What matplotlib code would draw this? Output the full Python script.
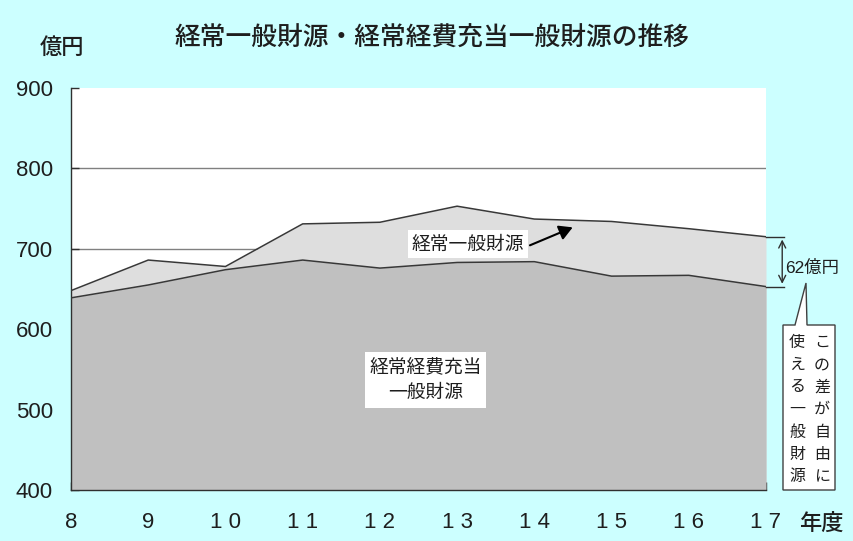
import matplotlib
matplotlib.use("Agg")
import matplotlib.pyplot as plt
from matplotlib.patches import Polygon

years = [8, 9, 10, 11, 12, 13, 14, 15, 16, 17]
year_labels = ["8", "9", "1 0", "1 1", "1 2", "1 3", "1 4", "1 5", "1 6", "1 7"]
general_revenue = [648, 686, 678, 731, 733, 753, 737, 734, 725, 715]
recurring_allocated = [639, 655, 674, 686, 676, 683, 684, 666, 667, 653]
y_ticks = [400, 500, 600, 700, 800, 900]

JP = ["Noto Sans CJK JP", "DejaVu Sans"]
NUM = ["Liberation Sans", "Noto Sans CJK JP"]
plt.rcParams['font.family'] = NUM

W, H = 854, 541
BG = "#CCFFFF"
TXT = "#1e1e1e"
fig = plt.figure(figsize=(W / 100, H / 100), dpi=100, facecolor=BG)

def fx(px):
    return px / W

def fy(py):
    return 1 - py / H

L, R, T, B = 71, 766, 88, 490
ax = fig.add_axes([fx(L), fy(B), fx(R) - fx(L), fy(T) - fy(B)])
ax.set_facecolor("white")
ax.set_xlim(years[0], years[-1])
ax.set_ylim(y_ticks[0], y_ticks[-1])

for v in y_ticks[1:-1]:
    ax.axhline(v, color="#808080", lw=1.0, zorder=0)

ax.fill_between(years, y_ticks[0], general_revenue, color="#DEDEDE", lw=0, zorder=1)
ax.plot(years, general_revenue, color="#383838", lw=1.1, zorder=3)
ax.fill_between(years, y_ticks[0], recurring_allocated, color="#C0C0C0", lw=0, zorder=2)
ax.plot(years, recurring_allocated, color="#383838", lw=1.1, zorder=3)

for s in ax.spines.values():
    s.set_color("#303030")
    s.set_linewidth(1.0)
ax.spines['top'].set_visible(False)
ax.spines['right'].set_visible(False)

ax.set_yticks(y_ticks)
ax.set_yticklabels([str(v) for v in y_ticks], fontsize=16, color=TXT)
ax.tick_params(axis='y', direction='in', length=6, width=1, color="#303030", pad=13)
ax.set_xticks(years)
ax.set_xticklabels(year_labels, fontsize=16, color=TXT)
ax.tick_params(axis='x', direction='in', length=6, width=1, color="#303030", pad=16)

fig.text(fx(432), fy(38), "経常一般財源・経常経費充当一般財源の推移", family=JP,
         fontsize=18.5, fontweight="medium", ha="center", va="center", color=TXT)
fig.text(fx(62), fy(47), "億円", family=JP, fontsize=16, fontweight="medium",
         ha="center", va="center", color=TXT)
fig.text(fx(821), fy(523), "年度", family=JP, fontsize=16, fontweight="medium",
         ha="center", va="center", color=TXT)

ax.text(13.14, 706, "経常一般財源", family=JP, fontsize=13.5, ha="center", va="center",
        color=TXT, zorder=5,
        bbox=dict(boxstyle="square,pad=0.2", fc="white", ec="none"))
ax.annotate("", xy=(14.53, 728), xytext=(13.91, 703),
            arrowprops=dict(arrowstyle="-|>,head_length=0.8,head_width=0.45", color="black", lw=1.5),
            zorder=5)
ax.text(12.59, 537, "経常経費充当\n一般財源", family=JP, fontsize=13.5, ha="center",
        va="center", color=TXT, zorder=5, linespacing=1.25,
        bbox=dict(boxstyle="square,pad=0.25", fc="white", ec="none"))

# bracket for difference
gap_top = general_revenue[-1]
gap_bot = recurring_allocated[-1]
for v in (gap_top, gap_bot):
    ax.plot([17, 17.23], [v, v], color="#303030", lw=1.0, clip_on=False, zorder=5)
ax.annotate("", xy=(17.21, gap_top), xytext=(17.21, gap_bot),
            arrowprops=dict(arrowstyle="<->,head_length=0.5,head_width=0.25", color="#303030", lw=1.0),
            annotation_clip=False)
ax.text(17.25, (gap_top + gap_bot) / 2 - 8, f"{gap_top - gap_bot}億円", family=NUM,
        fontsize=12.5, ha="left", va="center", color=TXT, clip_on=False)

# callout box
pts = [(783, 325), (795, 325), (806, 283), (807, 325), (835, 325), (835, 490), (783, 490)]
poly = Polygon([(fx(x), fy(y)) for x, y in pts], closed=True, transform=fig.transFigure,
               fc="white", ec="#404040", lw=1.0)
fig.patches.append(poly)
col_right = "この差が自由に"
col_left = "使える一般財源"
for i, (a, b) in enumerate(zip(col_left, col_right)):
    yy = 342 + i * 22.5
    fig.text(fx(797), fy(yy), a, family=JP, fontsize=11.5, ha="center", va="center", color=TXT)
    fig.text(fx(822), fy(yy), b, family=JP, fontsize=11.5, ha="center", va="center", color=TXT)

fig.savefig("out.png", dpi=100, facecolor=BG)
